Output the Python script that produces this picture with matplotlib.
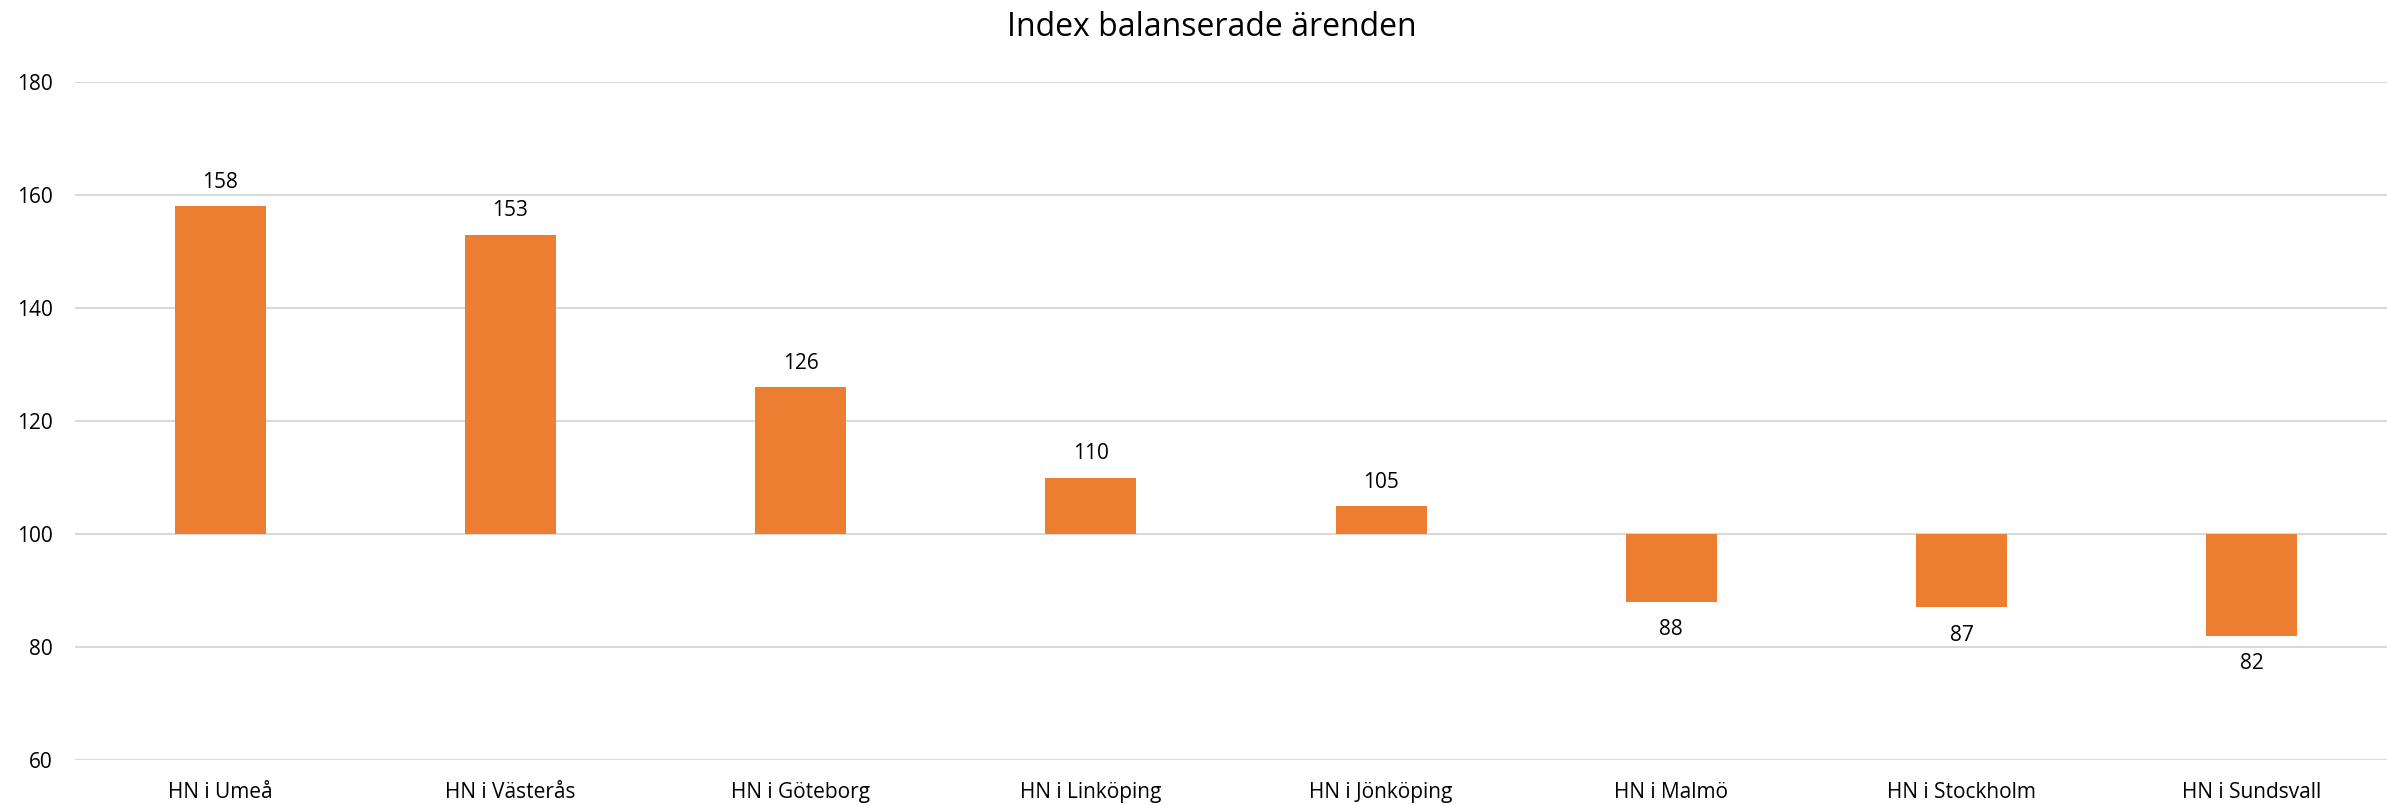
import matplotlib.pyplot as plt

categories = ['HN i Umeå', 'HN i Västerås', 'HN i Göteborg', 'HN i Linköping',
              'HN i Jönköping', 'HN i Malmö', 'HN i Stockholm', 'HN i Sundsvall']
index_values = [158, 153, 126, 110, 105, 88, 87, 82]
baseline = 100

plt.rcParams['font.family'] = ['Open Sans', 'DejaVu Sans']

fig = plt.figure(figsize=(23.87, 8.05), dpi=100)
ax = fig.add_axes([75 / 2387, 1 - 760 / 805, 2322 / 2387, 678 / 805])

x = range(len(categories))
heights = [v - baseline for v in index_values]
ax.bar(x, heights, bottom=baseline, width=0.313, color='#ED7D31', zorder=3)

for i, v in enumerate(index_values):
    off = 17 if v >= baseline else -20
    ax.annotate(str(v), (i, v), xytext=(0, off), textcoords='offset points',
                ha='center', va='center', fontsize=15, color='black')

ax.set_xlim(-0.5, len(categories) - 0.5)
ax.set_ylim(60, 180)
ax.set_yticks(range(60, 181, 20))
ax.set_xticks(list(x))
ax.set_xticklabels(categories)
ax.tick_params(axis='both', length=0, labelsize=15, colors='black')
ax.tick_params(axis='x', pad=16)
ax.tick_params(axis='y', pad=16)
ax.grid(axis='y', color='#D9D9D9', linewidth=1.5, zorder=0)
for s in ax.spines.values():
    s.set_visible(False)

fig.text(1212 / 2387, 1 - 28 / 805, 'Index balanserade ärenden', ha='center', va='center',
         fontsize=23, color='black')

fig.savefig('out.png', dpi=100)
